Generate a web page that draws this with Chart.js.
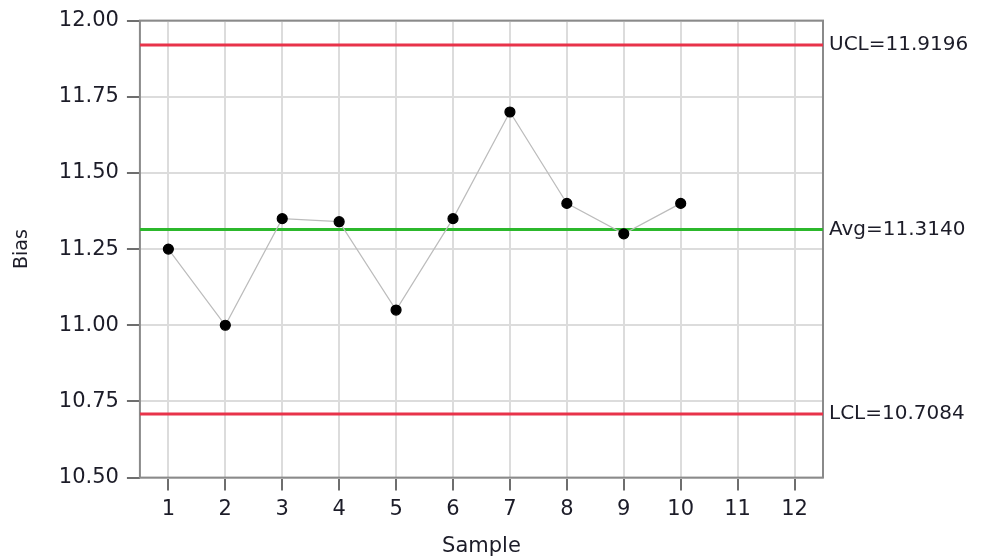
<!DOCTYPE html>
<html>
<head>
    <meta charset="UTF-8">
    <title>Bias control chart</title>
    <script src="https://cdn.jsdelivr.net/npm/chart.js"></script>
    <style>
        body { margin: 0; background: #fff; }
    </style>
</head>
<body>
    <canvas id="biasChart" width="981" height="559"></canvas>
    <script>
        // samples and measured bias
        const samples = ['1', '2', '3', '4', '5', '6', '7', '8', '9', '10', '11', '12'];
        const bias = [11.25, 11.00, 11.35, 11.34, 11.05, 11.35, 11.70, 11.40, 11.30, 11.40, null, null];

        // control limits
        const ucl = 11.9196;
        const avg = 11.3140;
        const lcl = 10.7084;

        const yTicks = [10.50, 10.75, 11.00, 11.25, 11.50, 11.75, 12.00];

        const textColor = '#1c1c28';
        const fontFamily = '"DejaVu Sans", Verdana, sans-serif';

        // flat line across the whole plot (uses hidden 0..1 x axis)
        function limitLine(value, color) {
            return {
                type: 'line',
                xAxisID: 'xLim',
                data: [{ x: 0, y: value }, { x: 1, y: value }],
                borderColor: color,
                borderWidth: 3,
                pointRadius: 0,
                fill: false,
                order: 1
            };
        }

        // frame around the plot + labels for the limit lines
        const limitLabels = {
            id: 'limitLabels',
            beforeDatasetsDraw(chart) {
                const a = chart.chartArea;
                const c = chart.ctx;
                c.save();
                c.strokeStyle = '#8a8a8a';
                c.lineWidth = 2;
                c.strokeRect(a.left, a.top, a.right - a.left, a.bottom - a.top);
                c.restore();
            },
            afterDraw(chart) {
                const a = chart.chartArea;
                const y = chart.scales.y;
                const c = chart.ctx;
                c.save();
                c.font = '20px ' + fontFamily;
                c.fillStyle = textColor;
                c.textBaseline = 'middle';
                c.textAlign = 'left';
                c.fillText('UCL=' + ucl.toFixed(4), a.right + 6, y.getPixelForValue(ucl));
                c.fillText('Avg=' + avg.toFixed(4), a.right + 6, y.getPixelForValue(avg));
                c.fillText('LCL=' + lcl.toFixed(4), a.right + 6, y.getPixelForValue(lcl));
                c.restore();
            }
        };

        const ctx = document.getElementById('biasChart').getContext('2d');
        const biasChart = new Chart(ctx, {
            type: 'line',
            data: {
                labels: samples,
                datasets: [
                    {
                        label: 'Bias',
                        data: bias,
                        borderColor: '#bcbcbc',
                        borderWidth: 1.2,
                        pointBackgroundColor: '#000',
                        pointBorderColor: '#000',
                        pointRadius: 5,
                        tension: 0,
                        order: 0
                    },
                    limitLine(ucl, '#e8334a'),
                    limitLine(avg, '#2cb82c'),
                    limitLine(lcl, '#e8334a')
                ]
            },
            options: {
                responsive: false,
                animation: false,
                layout: { padding: { top: 20, right: 158, left: 8, bottom: 0 } },
                plugins: {
                    legend: { display: false },
                    tooltip: { enabled: false }
                },
                scales: {
                    x: {
                        type: 'category',
                        offset: true,
                        grid: {
                            offset: false,
                            color: '#dcdcdc',
                            lineWidth: 2,
                            tickColor: '#6e6e6e',
                            tickLength: 13,
                            tickWidth: 2
                        },
                        border: { display: false },
                        ticks: {
                            color: textColor,
                            padding: 6,
                            font: { family: fontFamily, size: 21 }
                        },
                        title: {
                            display: true,
                            text: 'Sample',
                            color: textColor,
                            padding: { top: 6, bottom: 0 },
                            font: { family: fontFamily, size: 21 }
                        }
                    },
                    xLim: {
                        type: 'linear',
                        display: false,
                        min: 0,
                        max: 1
                    },
                    y: {
                        min: yTicks[0],
                        max: yTicks[yTicks.length - 1],
                        afterBuildTicks(scale) {
                            scale.ticks = yTicks.map(v => ({ value: v }));
                        },
                        grid: {
                            color: '#dcdcdc',
                            lineWidth: 2,
                            tickColor: '#6e6e6e',
                            tickLength: 13,
                            tickWidth: 2
                        },
                        border: { display: false },
                        ticks: {
                            color: textColor,
                            padding: 8,
                            font: { family: fontFamily, size: 21 },
                            callback: v => Number(v).toFixed(2)
                        },
                        title: {
                            display: true,
                            text: 'Bias',
                            color: textColor,
                            padding: { top: 3, bottom: 17 },
                            font: { family: fontFamily, size: 19 }
                        }
                    }
                }
            },
            plugins: [limitLabels]
        });
    </script>
</body>
</html>
